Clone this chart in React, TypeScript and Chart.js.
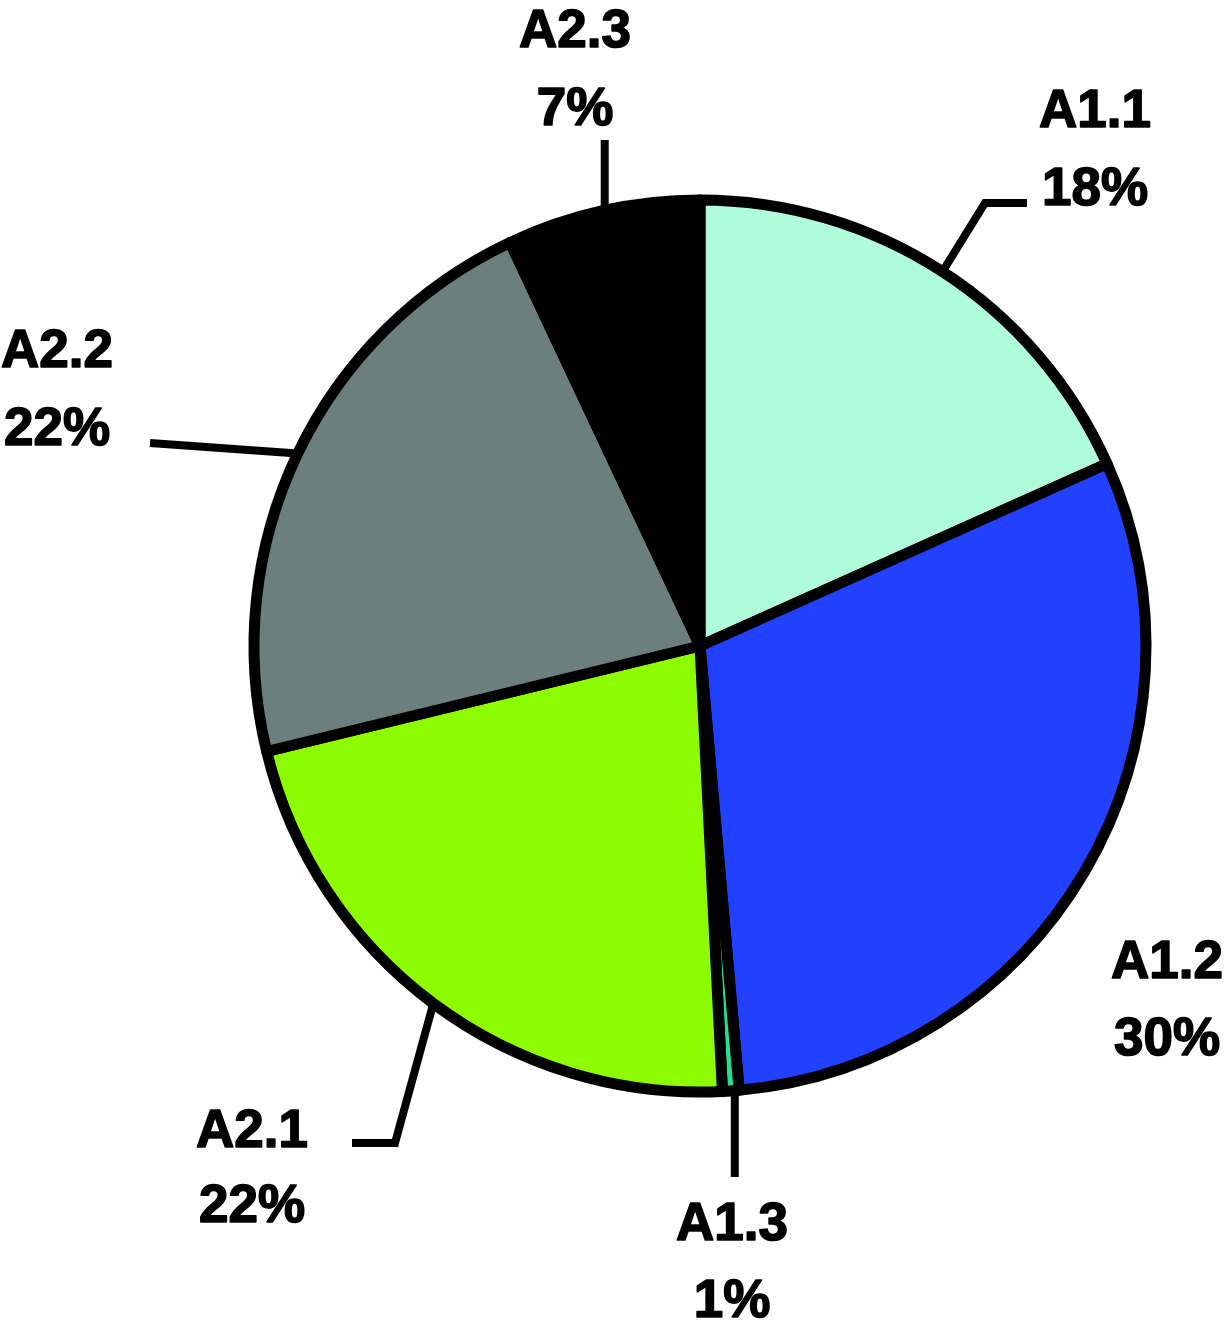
import React, { useEffect, useRef } from "react";
import { Chart, registerables } from "chart.js";

Chart.register(...registerables);

// ---- data ----
const categories = ["A1.1", "A1.2", "A1.3", "A2.1", "A2.2", "A2.3"];
const shares = [18.3, 30.3, 0.6, 22.0, 21.8, 7.0];
const sliceColors = ["#aefcda", "#2141ff", "#22e08e", "#8efc00", "#6b7f7f", "#000000"];

// ---- label layout (not data) ----
type Pt = { x: number; y: number };
type LabelLayout = { leader: Pt[] | null; vertical?: number; cx: number; y1: number; y2: number };
const labelLayout: LabelLayout[] = [
  { leader: [{ x: 985, y: 203 }, { x: 1027, y: 203 }], cx: 1095, y1: 127, y2: 205 },
  { leader: null, cx: 1167, y1: 978, y2: 1055 },
  { leader: [], vertical: 1177, cx: 732, y1: 1240, y2: 1317 },
  { leader: [{ x: 395, y: 1143 }, { x: 352, y: 1143 }], cx: 252, y1: 1147, y2: 1222 },
  { leader: [{ x: 150, y: 443 }], cx: 57, y1: 367, y2: 445 },
  { leader: [], vertical: 140, cx: 575, y1: 47, y2: 125 },
];

const W = 1226;
const H = 1330;

const labelPlugin = {
  id: "pieLabels",
  afterDraw(chart: any) {
    const ctx = chart.ctx as CanvasRenderingContext2D;
    const meta = chart.getDatasetMeta(0);
    const data = chart.data.datasets[0].data as number[];
    const total = data.reduce((a, b) => a + b, 0);
    ctx.save();
    meta.data.forEach((arc: any, i: number) => {
      const p = arc.getProps(["x", "y", "startAngle", "endAngle", "outerRadius"], true);
      const mid = (p.startAngle + p.endAngle) / 2;
      const sx = p.x + Math.cos(mid) * p.outerRadius;
      const sy = p.y + Math.sin(mid) * p.outerRadius;
      const lay = labelLayout[i];
      if (lay.leader) {
        const pts: Pt[] = [{ x: sx, y: sy }];
        if (lay.vertical !== undefined) pts.push({ x: sx + (i === 2 ? 4 : 2), y: lay.vertical });
        lay.leader.forEach((q) => pts.push(q));
        ctx.beginPath();
        ctx.lineWidth = 8;
        ctx.strokeStyle = "#000";
        ctx.lineJoin = "miter";
        ctx.lineCap = "butt";
        if (lay.vertical !== undefined) {
          ctx.moveTo(pts[1].x, sy);
        } else {
          ctx.moveTo(pts[0].x, pts[0].y);
        }
        for (let k = 1; k < pts.length; k++) ctx.lineTo(pts[k].x, pts[k].y);
        ctx.stroke();
      }
      ctx.fillStyle = "#000";
      ctx.strokeStyle = "#000";
      ctx.lineWidth = 1.6;
      ctx.lineJoin = "round";
      ctx.font = "bold 53px 'Liberation Sans', Arial, sans-serif";
      ctx.textAlign = "center";
      ctx.textBaseline = "alphabetic";
      const pct = Math.round((data[i] / total) * 100) + "%";
      ctx.fillText(chart.data.labels[i], lay.cx, lay.y1);
      ctx.strokeText(chart.data.labels[i], lay.cx, lay.y1);
      ctx.fillText(pct, lay.cx, lay.y2);
      ctx.strokeText(pct, lay.cx, lay.y2);
    });
    ctx.restore();
  },
};

export default function App() {
  const ref = useRef<HTMLCanvasElement | null>(null);
  useEffect(() => {
    document.body.style.margin = "0";
    const chart = new Chart(ref.current as HTMLCanvasElement, {
      type: "pie",
      data: {
        labels: categories,
        datasets: [
          {
            data: shares,
            backgroundColor: sliceColors,
            borderColor: "#000000",
            borderWidth: 11,
            borderJoinStyle: "round",
            radius: 446,
            clip: false,
          } as any,
        ],
      },
      options: {
        responsive: false,
        animation: false,
        layout: { padding: { left: 254, right: 80, top: 200, bottom: 238 } },
        plugins: {
          legend: { display: false },
          tooltip: { enabled: false },
        },
      },
      plugins: [labelPlugin],
    });
    return () => chart.destroy();
  }, []);
  return (
    <div style={{ position: "absolute", left: 0, top: 0, width: W, height: H, background: "#fff" }}>
      <canvas ref={ref} width={W} height={H} style={{ width: W, height: H, display: "block" }} />
    </div>
  );
}
